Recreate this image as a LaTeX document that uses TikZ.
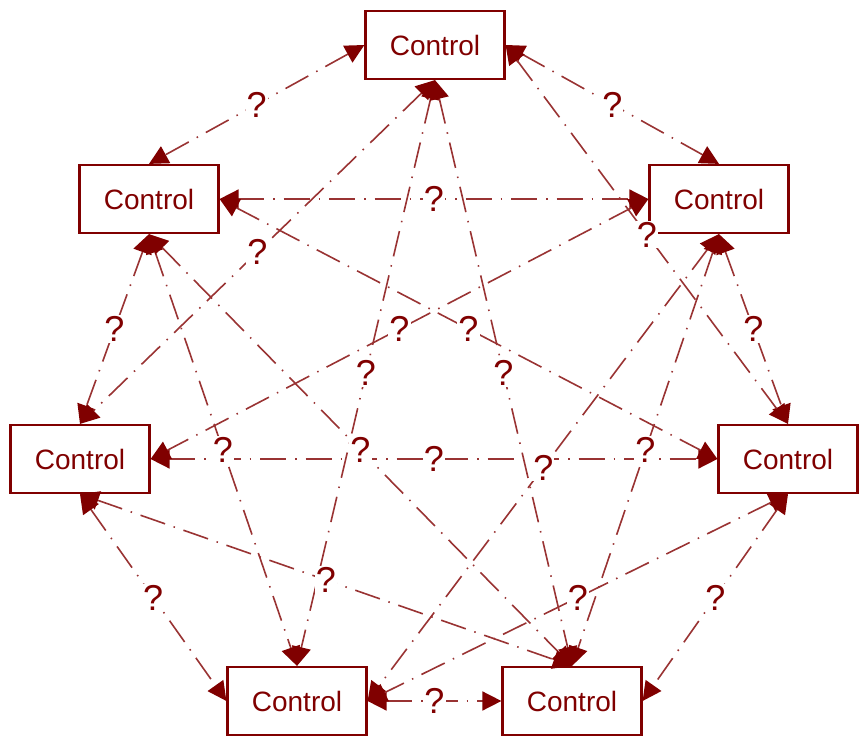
\documentclass[tikz,border=0pt]{standalone}
\usepackage{fontspec}
\setmainfont{Liberation Sans}
\usetikzlibrary{arrows.meta}
\definecolor{ctrlred}{HTML}{800000}
\begin{document}
\begin{tikzpicture}[x=1pt, y=-1pt,
  ctrl/.style={draw=ctrlred, line width=2.2pt, fill=white, minimum width=139pt, minimum height=68pt,
    text=ctrlred, font=\fontsize{28}{32}\selectfont},
  link/.style={draw=ctrlred!80, line width=1.6pt,
    {Triangle[length=19pt,width=19pt,color=ctrlred]}-{Triangle[length=19pt,width=19pt,color=ctrlred]},
    dash pattern=on 26pt off 9pt on 1.5pt off 9pt},
  ask/.style={midway, fill=white, inner sep=1pt, text=ctrlred, font=\fontsize{36}{38}\selectfont}]
\useasboundingbox (0,0) rectangle (860,738);

% Controls
\node[ctrl] (top) at (435,45) {Control};
\node[ctrl] (ul) at (149,199) {Control};
\node[ctrl] (ur) at (719,199) {Control};
\node[ctrl] (ml) at (80,459) {Control};
\node[ctrl] (mr) at (788,459) {Control};
\node[ctrl] (bl) at (297,701) {Control};
\node[ctrl] (br) at (572,701) {Control};

% Outer ring
\draw[link] (top.west) -- (ul.north) node[ask] {?};
\draw[link] (top.east) -- (ur.north) node[ask] {?};
\draw[link] (ul.south) -- (ml.north) node[ask] {?};
\draw[link] (ur.south) -- (mr.north) node[ask] {?};
\draw[link] (ml.south) -- (bl.west) node[ask] {?};
\draw[link] (mr.south) -- (br.east) node[ask] {?};
\draw[link] (bl.east) -- (br.west) node[ask] {?};

% Chords
\draw[link] (ul.east) -- (ur.west) node[ask] {?};
\draw[link] (ml.east) -- (mr.west) node[ask] {?};
\draw[link] (top.south) -- (ml.north) node[ask] {?};
\draw[link] (top.east) -- (mr.north) node[ask] {?};
\draw[link] (top.south) -- (bl.north) node[ask] {?};
\draw[link] (top.south) -- (br.north) node[ask] {?};
\draw[link] (ul.east) -- (mr.west) node[ask] {?};
\draw[link] (ur.west) -- (ml.east) node[ask] {?};
\draw[link] (ul.south) -- (bl.north) node[ask] {?};
\draw[link] (ul.south) -- (br.north) node[ask] {?};
\draw[link] (ur.south) -- (bl.east) node[ask] {?};
\draw[link] (ur.south) -- (br.north) node[ask] {?};
\draw[link] (ml.south) -- (br.north) node[ask] {?};
\draw[link] (mr.south) -- (bl.east) node[ask] {?};
\end{tikzpicture}
\end{document}
